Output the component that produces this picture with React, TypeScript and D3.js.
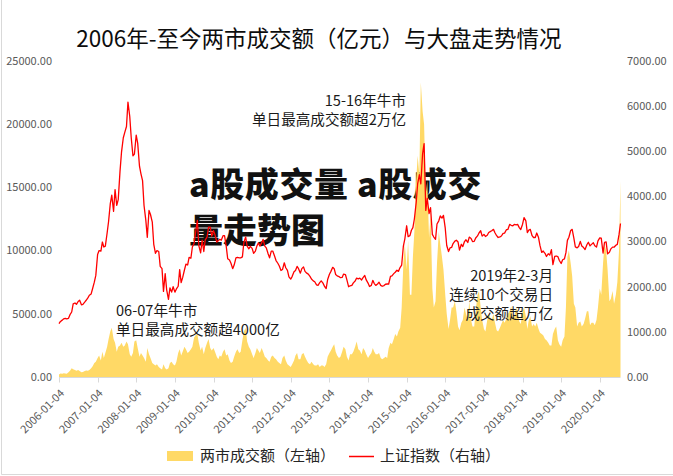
import React from 'react';
import * as d3 from 'd3';

const W = 673;
const H = 476;

const years = [2006, 2007, 2008, 2009, 2010, 2011, 2012, 2013, 2014, 2015, 2016, 2017, 2018, 2019, 2020];
const tickLabels = years.map((y) => `${y}-01-04`);
const leftTicks = [0, 5000, 10000, 15000, 20000, 25000];
const rightTicks = [0, 1000, 2000, 3000, 4000, 5000, 6000, 7000];

// 上证指数, two readings per month (around the 4th and the 18th)
const sse2006 = [1180, 1230, 1260, 1290, 1300, 1290, 1300, 1380, 1440, 1620, 1640, 1610, 1672, 1700, 1600, 1610, 1658, 1700, 1752, 1810, 1840, 1960, 2100, 2250];
const sse2007 = [2715, 2800, 2790, 2990, 2880, 2900, 3190, 3450, 3840, 4030, 3670, 4150, 3800, 3930, 4560, 4980, 5300, 5420, 5550, 6090, 5770, 5300, 4900, 4940];
const sse2008 = [5360, 5180, 4670, 4500, 4350, 3800, 3470, 3094, 3690, 3600, 3430, 2940, 2740, 2800, 2780, 2450, 2400, 1895, 2290, 1930, 1720, 1975, 1880, 2000];
const sse2009 = [1880, 1950, 2010, 2380, 2090, 2200, 2370, 2500, 2480, 2650, 2630, 2880, 2960, 3190, 3470, 2910, 2750, 3030, 2780, 3040, 3100, 3320, 3320, 3120];
const sse2010 = [3240, 3150, 2990, 3020, 3050, 3030, 3130, 3130, 2900, 2620, 2590, 2520, 2400, 2480, 2640, 2650, 2640, 2640, 2660, 2980, 3100, 2900, 2840, 2895];
const sse2011 = [2850, 2740, 2790, 2900, 2970, 2900, 2970, 3050, 2900, 2860, 2730, 2640, 2790, 2790, 2680, 2580, 2520, 2460, 2360, 2380, 2530, 2420, 2360, 2220];
const sse2012 = [2169, 2230, 2330, 2360, 2450, 2400, 2300, 2400, 2440, 2340, 2300, 2280, 2230, 2170, 2130, 2110, 2040, 2030, 2090, 2130, 2080, 2010, 1960, 2160];
const sse2013 = [2276, 2340, 2430, 2400, 2270, 2240, 2225, 2200, 2205, 2280, 2270, 2150, 2000, 2020, 2030, 2085, 2125, 2190, 2175, 2190, 2150, 2200, 2250, 2150];
const sse2014 = [2080, 2005, 2030, 2140, 2070, 2030, 2060, 2100, 2030, 2010, 2025, 2055, 2060, 2060, 2230, 2240, 2290, 2320, 2365, 2340, 2430, 2480, 2900, 3060];
const sse2015 = [3350, 3110, 3130, 3250, 3310, 3500, 3860, 4280, 4480, 4280, 4950, 5170, 3690, 3960, 3620, 3750, 3160, 3100, 3050, 3390, 3460, 3570, 3520, 3580];
const sse2016 = [3296, 2913, 2780, 2860, 2870, 2955, 3010, 3030, 2990, 2810, 2940, 2890, 3000, 3040, 2980, 3100, 3070, 3000, 3005, 3080, 3125, 3190, 3240, 3120];
const sse2017 = [3160, 3113, 3140, 3200, 3220, 3240, 3270, 3196, 3130, 3090, 3105, 3124, 3183, 3188, 3262, 3268, 3380, 3360, 3350, 3380, 3372, 3382, 3310, 3267];
const sse2018 = [3385, 3530, 3460, 3200, 3255, 3270, 3130, 3090, 3090, 3190, 3090, 2910, 2760, 2790, 2740, 2670, 2730, 2700, 2820, 2490, 2670, 2680, 2665, 2580];
const sse2019 = [2515, 2597, 2618, 2754, 3027, 3096, 3246, 3270, 3078, 2882, 2862, 2890, 3005, 2901, 2868, 2823, 2930, 2985, 2905, 2938, 2975, 2909, 2878, 3017];
const sse2020 = [3083, 3075, 2746, 2984, 2992, 2728, 2763, 2839, 2878, 2875, 2919, 2939, 3152, 3400];

// 两市成交额 (亿元), same dates
const vol2006 = [200, 280, 260, 300, 280, 260, 380, 500, 700, 620, 560, 500, 560, 480, 380, 400, 480, 520, 500, 560, 700, 850, 1100, 1200];
const vol2007 = [1500, 1700, 1300, 2000, 1500, 1900, 2400, 3000, 3600, 3900, 3000, 2700, 2000, 2400, 2500, 2700, 2400, 2500, 2800, 2600, 1800, 1600, 1900, 2800];
const vol2008 = [2900, 2300, 1600, 1900, 1700, 1500, 1200, 2300, 1800, 1500, 1100, 1000, 900, 1000, 800, 700, 600, 1000, 700, 600, 700, 1100, 1200, 1000];
const vol2009 = [900, 1200, 1900, 2200, 1700, 2000, 2400, 2200, 1900, 2000, 2200, 2400, 3100, 3300, 3400, 2700, 2100, 2400, 1800, 2300, 2700, 3000, 2300, 2100];
const vol2010 = [2300, 2000, 1600, 1400, 1700, 1600, 2000, 2200, 1700, 1800, 1300, 1100, 1200, 1600, 2000, 2200, 1900, 2000, 2900, 3600, 3900, 2800, 2400, 2200];
const vol2011 = [1800, 1500, 1900, 2300, 2100, 1900, 2300, 2000, 1600, 1500, 1300, 1200, 1600, 1700, 1500, 1400, 1200, 1100, 1000, 1500, 1700, 1300, 1000, 900];
const vol2012 = [800, 1000, 1300, 1700, 1900, 1400, 1400, 1800, 1900, 1600, 1300, 1100, 1000, 1200, 1000, 900, 900, 1000, 800, 900, 900, 800, 1000, 1600];
const vol2013 = [1900, 2100, 2400, 2600, 2000, 1700, 1500, 1600, 2000, 2400, 2200, 1600, 1300, 1800, 1800, 2000, 2400, 2800, 2200, 2100, 1800, 2300, 2100, 1800];
const vol2014 = [1500, 1700, 1900, 2300, 2000, 1800, 1800, 1900, 1500, 1400, 1500, 1600, 1500, 2300, 2700, 2600, 3000, 3400, 3200, 3600, 3900, 5500, 9000, 10500];
const vol2015 = [8500, 10800, 6500, 6500, 9500, 11500, 15500, 17500, 16000, 23300, 21000, 20000, 14500, 15500, 11000, 13000, 7000, 5500, 6000, 9000, 11500, 10500, 9500, 8500];
const vol2016 = [6500, 5000, 3800, 4500, 5500, 5500, 6000, 5200, 4000, 3700, 4300, 4500, 5500, 5000, 4500, 6000, 4500, 4000, 4000, 5200, 6500, 6800, 5500, 4500];
const vol2017 = [3800, 3600, 4500, 5000, 4700, 4500, 5000, 4300, 3700, 3600, 3900, 4200, 4500, 4300, 4600, 5000, 5200, 5600, 4700, 4800, 5500, 5200, 4400, 4200];
const vol2018 = [5200, 5500, 4800, 3800, 4500, 4800, 4000, 4200, 4000, 4300, 3800, 3500, 3400, 3300, 3000, 2900, 2700, 2500, 2500, 3400, 3800, 4000, 2900, 2600];
const vol2019 = [2400, 2900, 3200, 5500, 9500, 10000, 9000, 8000, 5800, 5500, 4000, 4300, 4400, 4000, 4200, 4600, 5200, 5200, 4100, 4300, 4300, 4100, 4500, 5500];
const vol2020 = [7000, 6500, 9000, 10500, 10000, 8500, 6000, 6200, 6800, 5800, 6500, 7500, 10000, 15500];

const sseYears = [sse2006, sse2007, sse2008, sse2009, sse2010, sse2011, sse2012, sse2013, sse2014, sse2015, sse2016, sse2017, sse2018, sse2019, sse2020];
const volYears = [vol2006, vol2007, vol2008, vol2009, vol2010, vol2011, vol2012, vol2013, vol2014, vol2015, vol2016, vol2017, vol2018, vol2019, vol2020];

type Pt = { date: Date; value: number };
function buildSeries(arrs: number[][]): Pt[] {
  const out: Pt[] = [];
  arrs.forEach((arr, yi) => {
    arr.forEach((v, i) => {
      out.push({ date: new Date(years[yi], Math.floor(i / 2), i % 2 === 0 ? 4 : 18), value: v });
    });
  });
  return out;
}

const FONT = "'Noto Sans CJK SC', 'Noto Sans', sans-serif";

export default function App() {
  const sse = buildSeries(sseYears);
  const vol = buildSeries(volYears);

  const x = d3.scaleTime().domain([new Date(2006, 0, 4), new Date(2020, 6, 18)]).range([59, 620.5]);
  const yL = d3.scaleLinear().domain([0, 25000]).range([377, 61]);
  const yR = d3.scaleLinear().domain([0, 7000]).range([377, 61]);

  const area = d3.area<Pt>().x((d) => x(d.date)).y0(yL(0)).y1((d) => yL(d.value));
  const line = d3.line<Pt>().x((d) => x(d.date)).y((d) => yR(d.value));

  const tickDates = years.map((y) => new Date(y, 0, 4));

  return (
    <svg width={W} height={H} style={{ position: 'absolute', left: 0, top: 0, background: '#fff' }} fontFamily={FONT}>
      <rect x={0} y={0} width={W} height={H} fill="#fff" />
      <line x1={1.5} y1={0} x2={1.5} y2={474.5} stroke="#d9d9d9" />
      <line x1={1.5} y1={474.5} x2={W} y2={474.5} stroke="#d9d9d9" />

      <text x={319} y={47} textAnchor="middle" fontSize={22.5} fill="#0d0d0d">
        2006年-至今两市成交额（亿元）与大盘走势情况
      </text>

      {/* overlay text */}
      <g fontSize={34} fontWeight={900} fill="#111">
        <text x={189} y={197} letterSpacing={0.6}>a股成交量 a股成交</text>
        <text x={189} y={243}>量走势图</text>
      </g>

      {/* axis labels */}
      <g fontSize={11} fill="#595959">
        {leftTicks.map((t) => (
          <text key={'l' + t} x={52} y={yL(t)} dy="0.35em" textAnchor="end">
            {t.toFixed(2)}
          </text>
        ))}
        {rightTicks.map((t) => (
          <text key={'r' + t} x={627} y={yR(t)} dy="0.35em" textAnchor="start">
            {t.toFixed(2)}
          </text>
        ))}
      </g>

      <path d={area(vol) || ''} fill="#FFD966" />
      <path d={line(sse) || ''} fill="none" stroke="#FF0000" strokeWidth={1.3} strokeLinejoin="round" />

      {/* x axis */}
      <line x1={59} y1={377.5} x2={620.5} y2={377.5} stroke="#d9d9d9" />
      {tickDates.map((d, i) => (
        <g key={'x' + i}>
          <line x1={Math.round(x(d)) + 0.5} y1={377.5} x2={Math.round(x(d)) + 0.5} y2={382.5} stroke="#d9d9d9" />
          <text
            transform={`translate(${x(d) + 6},${394}) rotate(-45)`}
            textAnchor="end"
            fontSize={11}
            fill="#595959"
          >
            {tickLabels[i]}
          </text>
        </g>
      ))}

      {/* annotations */}
      <g fontSize={14.6} fill="#1a1a1a">
        <text x={406} y={105.5} textAnchor="end">15-16年牛市</text>
        <text x={406} y={124.5} textAnchor="end">单日最高成交额超2万亿</text>
        <text x={116} y={315.5}>06-07年牛市</text>
        <text x={116} y={334.5}>单日最高成交额超4000亿</text>
        <text x={553} y={281} textAnchor="end">2019年2-3月</text>
        <text x={553} y={300} textAnchor="end">连续10个交易日</text>
        <text x={553} y={319} textAnchor="end">成交额超万亿</text>
      </g>

      {/* legend */}
      <rect x={167} y={451} width={26} height={10} fill="#FFD966" />
      <text x={200} y={461} fontSize={15} fill="#262626">两市成交额（左轴）</text>
      <line x1={349} y1={456.5} x2={374} y2={456.5} stroke="#FF0000" strokeWidth={1.5} />
      <text x={380} y={461} fontSize={15} fill="#262626">上证指数（右轴）</text>
    </svg>
  );
}
